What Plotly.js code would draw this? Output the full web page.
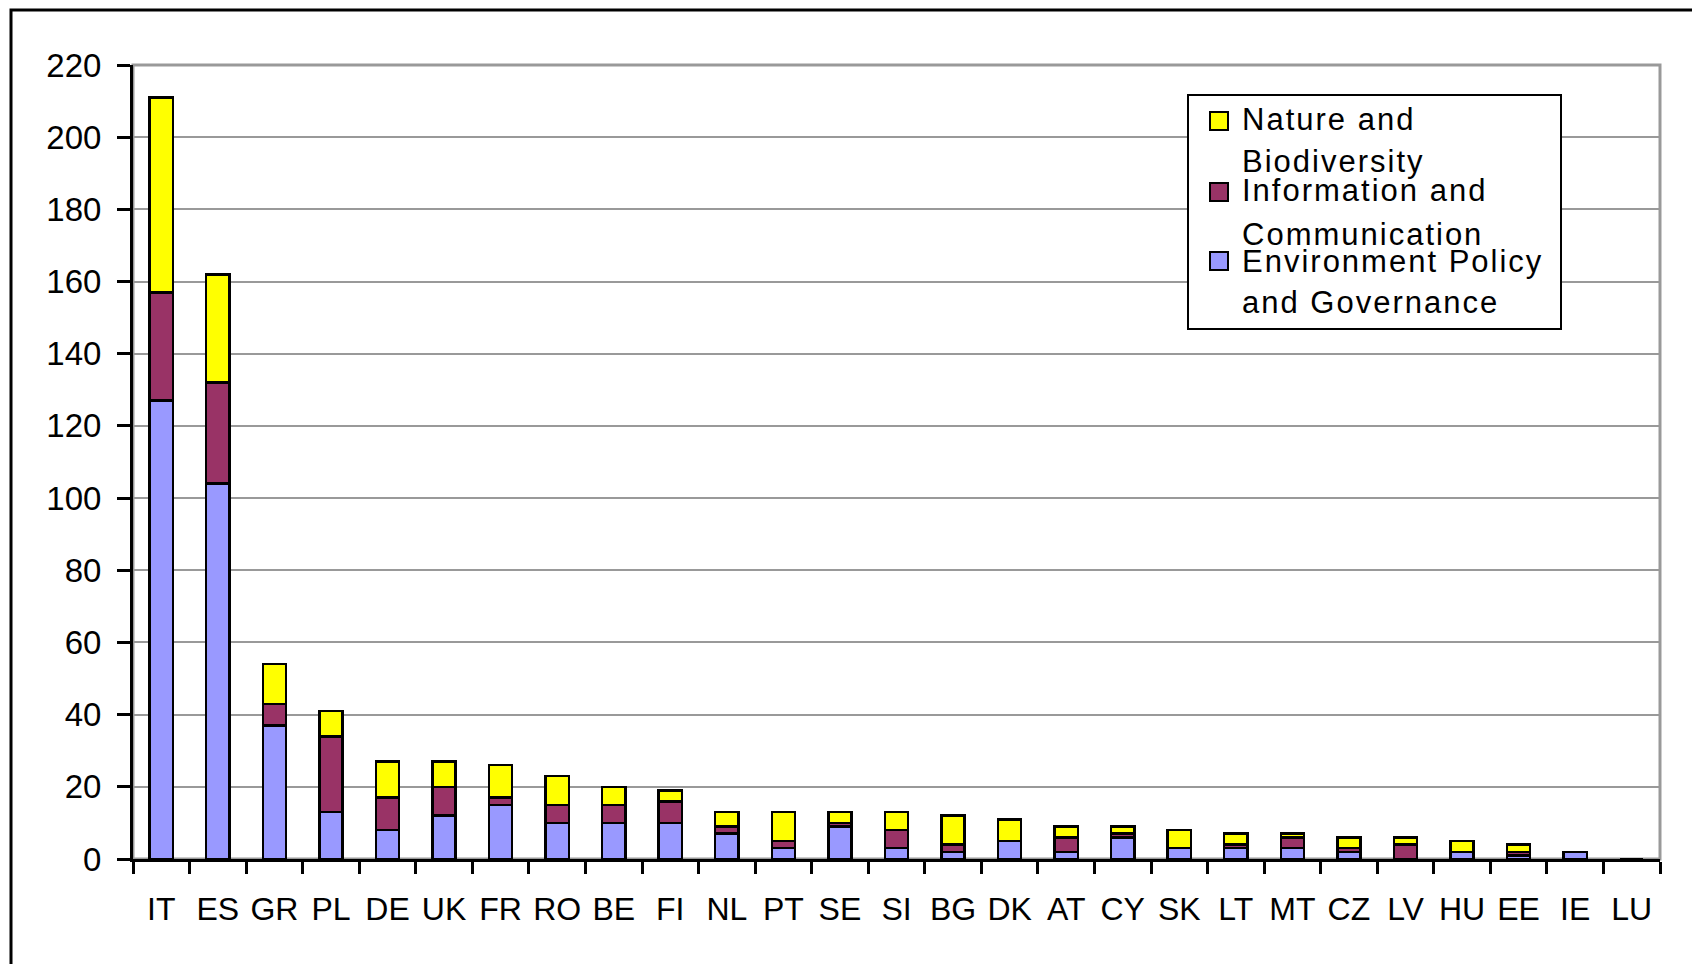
<!DOCTYPE html>
<html>
<head>
<meta charset="utf-8">
<script src="https://cdn.plot.ly/plotly-3.0.1.min.js"></script>
<style>
  html, body { margin: 0; padding: 0; background: #ffffff; }
  #chart { width: 1692px; height: 964px; }
  #chart .annotation-text { letter-spacing: 2px; }
</style>
</head>
<body>
<div id="chart"></div>
<script>
const countries = ["IT","ES","GR","PL","DE","UK","FR","RO","BE","FI","NL","PT","SE","SI","BG","DK","AT","CY","SK","LT","MT","CZ","LV","HU","EE","IE","LU"];
const envPolicy = [127,104,37,13,8,12,15,10,10,10,7,3,9,3,2,5,2,6,3,3,3,2,0,2,1,2,0];
const infoComm  = [30,28,6,21,9,8,2,5,5,6,2,2,1,5,2,0,4,1,0,1,3,1,4,0,1,0,0];
const nature    = [54,30,11,7,10,7,9,8,5,3,4,8,3,5,8,6,3,2,5,3,1,3,2,3,2,0,0];
const seriesNames = ["Environment Policy and Governance", "Information and Communication", "Nature and Biodiversity"];
const legendLines = [["Nature and", "Biodiversity"], ["Information and", "Communication"], ["Environment Policy", "and Governance"]];
const seriesColors = ["#9999FF", "#993366", "#FFFF00"];
const yTicks = [0,20,40,60,80,100,120,140,160,180,200,220];

const FONT = "Liberation Sans, Arial, sans-serif";
const outline = {color: "#000000", width: 2.5};

const traces = [envPolicy, infoComm, nature].map((vals, i) => ({
  type: "bar", name: seriesNames[i], x: countries, y: vals,
  marker: {color: seriesColors[i], line: outline}
}));

const L = 133, R = 32, T = 65, B = 105;
const W = 1692, H = 964;
const pw = W - L - R, ph = H - T - B;
const px = v => (v - L) / pw;
const py = v => (H - B - v) / ph;

// custom legend (top item = last series, as in the original)
const legBox = {x0: 1188, x1: 1561, y0: 95, y1: 329};
const swatchTops = [112, 183, 252];
const lineCenters = [[119.5, 161.5], [191, 234.5], [261.5, 302]];
const legendOrder = [2, 1, 0];

const shapes = [
  {type: "rect", xref: "paper", yref: "paper", x0: 0, x1: 1, y0: 0, y1: 1,
   line: {color: "#999999", width: 3}, layer: "below"},
  {type: "rect", xref: "paper", yref: "paper", x0: px(11), x1: px(1720), y0: py(1000), y1: py(10),
   line: {color: "#000000", width: 3}, fillcolor: "rgba(0,0,0,0)", layer: "above"},
  {type: "rect", xref: "paper", yref: "paper",
   x0: px(legBox.x0), x1: px(legBox.x1), y0: py(legBox.y1), y1: py(legBox.y0),
   line: {color: "#000000", width: 2}, fillcolor: "#ffffff", layer: "above"}
];
const annotations = [];
legendOrder.forEach((s, k) => {
  shapes.push({type: "rect", xref: "paper", yref: "paper",
    x0: px(1210), x1: px(1228), y0: py(swatchTops[k] + 18), y1: py(swatchTops[k]),
    line: {color: "#000000", width: 2}, fillcolor: seriesColors[s], layer: "above"});
  legendLines[k].forEach((txt, j) => {
    annotations.push({xref: "paper", yref: "paper", x: px(1240), y: py(lineCenters[k][j]),
      xanchor: "left", yanchor: "middle", showarrow: false, align: "left",
      text: txt, font: {family: FONT, size: 31, color: "#000000"}});
  });
});

const layout = {
  width: W, height: H,
  margin: {l: L, r: R, t: T, b: B, pad: 0},
  paper_bgcolor: "#ffffff",
  plot_bgcolor: "#ffffff",
  barmode: "stack",
  bargap: 0.59,
  showlegend: false,
  font: {family: FONT, size: 33, color: "#000000"},
  xaxis: {
    type: "category",
    showline: true, linecolor: "#000000", linewidth: 3,
    ticks: "outside", ticklen: 12, tickwidth: 3, tickcolor: "#000000",
    tickson: "boundaries",
    tickangle: 0,
    ticklabelstandoff: 20,
    tickfont: {family: FONT, size: 32, color: "#000000"},
    showgrid: false, zeroline: false, fixedrange: true
  },
  yaxis: {
    range: [0, 220],
    tickmode: "array", tickvals: yTicks, ticktext: yTicks.map(String),
    showline: true, linecolor: "#000000", linewidth: 3,
    ticks: "outside", ticklen: 13, tickwidth: 3, tickcolor: "#000000",
    ticklabelstandoff: 9,
    tickfont: {family: FONT, size: 33, color: "#000000"},
    showgrid: true, gridcolor: "#999999", gridwidth: 2,
    zeroline: false, fixedrange: true
  },
  shapes: shapes,
  annotations: annotations
};

Plotly.newPlot("chart", traces, layout, {displayModeBar: false, staticPlot: true});
</script>
</body>
</html>
